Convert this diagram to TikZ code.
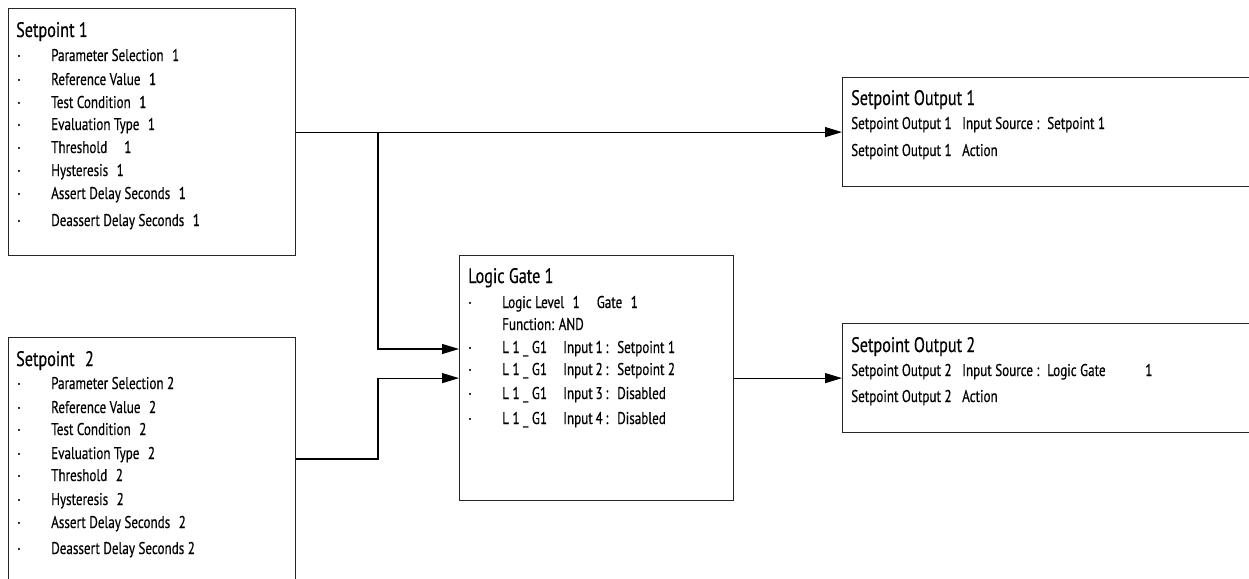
\documentclass[tikz,border=0pt]{standalone}
\usepackage{fontspec}
\setmainfont{PT Sans}[FakeStretch=0.77,FakeBold=0.4]
\usetikzlibrary{arrows.meta}
\tikzset{
  box/.style={draw=black!85, line width=1.2pt, inner sep=0pt, anchor=north west},
  conn/.style={draw=black, line width=1.1pt},
  arr/.style={conn, -{Triangle[length=17pt,width=10pt]}},
  ttl/.style={anchor=base west, inner sep=0pt, font=\fontsize{21}{24}\selectfont},
  itm/.style={anchor=base west, inner sep=0pt, font=\fontsize{17}{20}\selectfont},
  bul/.style={anchor=base, inner sep=0pt, font=\fontsize{17}{20}\selectfont}
}
\begin{document}
\begin{tikzpicture}[x=1pt,y=-1pt]
\useasboundingbox (0,0) rectangle (1249,578);
\clip (0,0) rectangle (1249,578);
% boxes
\node[box, minimum width=287pt, minimum height=247pt] (sp1) at (8,8) {};
\node[box, minimum width=287pt, minimum height=300pt] (sp2) at (8,337) {};
\node[box, minimum width=274pt, minimum height=245pt] (gate) at (459,255) {};
\node[box, minimum width=450pt, minimum height=109pt] (out1) at (842,77) {};
\node[box, minimum width=450pt, minimum height=109pt] (out2) at (842,323) {};

% Setpoint 1
\node[ttl] (sp1t) at (16,37) {Setpoint 1};
\foreach \t [count=\i] in {Parameter Selection\enspace 1, Reference Value\enspace 1, Test Condition\enspace 1, Evaluation Type\enspace 1, Threshold\quad 1, Hysteresis\enspace 1, Assert Delay Seconds\enspace 1, Deassert Delay Seconds\enspace 1}{
  \pgfmathsetmacro{\yy}{{61,85,108,130,153,176,199,226}[\i-1]}
  \node[bul] (sp1b\i) at (19,\yy) {\textperiodcentered};
  \node[itm] (sp1i\i) at (51,\yy) {\t};
}
% Setpoint 2
\node[ttl] (sp2t) at (16,366) {Setpoint\enspace 2};
\foreach \t [count=\i] in {Parameter Selection 2, Reference Value\enspace 2, Test Condition\enspace 2, Evaluation Type\enspace 2, Threshold\enspace 2, Hysteresis\enspace 2, Assert Delay Seconds\enspace 2, Deassert Delay Seconds 2}{
  \pgfmathsetmacro{\yy}{{389,413,435,459,481,505,528,554}[\i-1]}
  \node[bul] (sp2b\i) at (19,\yy) {\textperiodcentered};
  \node[itm] (sp2i\i) at (51,\yy) {\t};
}
% Logic gate
\node[ttl] (gt) at (468,283) {Logic Gate 1};
\node[bul] (gb1) at (470,308) {\textperiodcentered};
\node[itm] (gi1) at (502,308) {Logic Level\enspace 1\quad Gate\enspace 1};
\node[itm] (gi2) at (502,330) {Function: AND};
\foreach \n/\s [count=\i] in {1/Setpoint 1, 2/Setpoint 2, 3/Disabled, 4/Disabled}{
  \pgfmathsetmacro{\yy}{{353,375,399,424}[\i-1]}
  \node[bul] (gbx\i) at (470,\yy) {\textperiodcentered};
  \node[itm] (gix\i) at (502,\yy) {\makebox[61pt][l]{L 1 \_ G1}\makebox[54pt][l]{Input\,\n\,:}\s};
}
% Setpoint Output 1
\node[ttl] (o1t) at (851,105) {Setpoint Output 1};
\node[itm] (o1a) at (851,129) {\makebox[111pt][l]{Setpoint Output 1}\makebox[85pt][l]{Input Source :}Setpoint 1};
\node[itm] (o1b) at (851,156) {\makebox[111pt][l]{Setpoint Output 1}Action};
% Setpoint Output 2
\node[ttl] (o2t) at (851,352) {Setpoint Output 2};
\node[itm] (o2a) at (851,376) {\makebox[111pt][l]{Setpoint Output 2}\makebox[85pt][l]{Input Source :}\makebox[98pt][l]{Logic Gate}1};
\node[itm] (o2b) at (851,402) {\makebox[111pt][l]{Setpoint Output 2}Action};

% connectors
\coordinate (j1) at (378,0 |- sp1.east);
\coordinate (g1) at (gate.west |- 0,349);
\coordinate (s2o) at (sp2.east |- 0,459);
\coordinate (j2) at (378,459);
\draw[arr] (sp1.east) -- (out1.west);
\draw[arr] (sp1.east -| j1) |- (g1);
\draw[arr] (s2o) -- (j2) |- (gate.west);
\draw[arr] (gate.east) -- (out2.west);
\end{tikzpicture}
\end{document}
